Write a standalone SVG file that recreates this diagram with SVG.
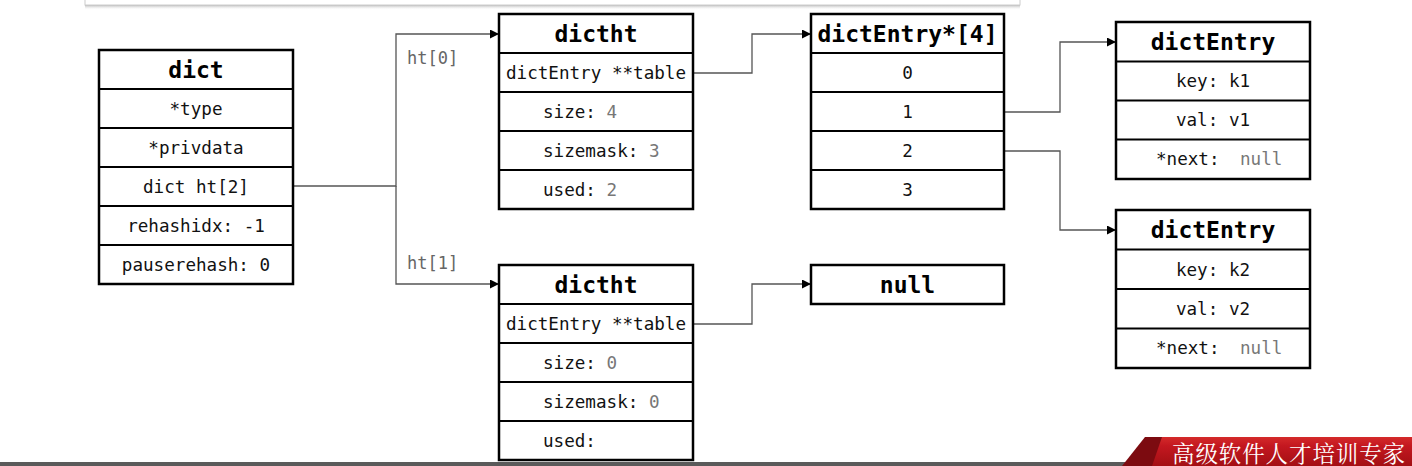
<svg xmlns="http://www.w3.org/2000/svg" width="1412" height="466" viewBox="0 0 1412 466">
<style>
.box{fill:#fff;stroke:#000;stroke-width:2.5}
.dv{stroke:#000;stroke-width:2}
.t{font-family:"DejaVu Sans Mono",monospace;font-size:17.6px;fill:#111}
.h{font-family:"DejaVu Sans Mono",monospace;font-size:23px;font-weight:bold;fill:#000}
.g{fill:#777}
.c{text-anchor:middle}
.lbl{font-family:"DejaVu Sans Mono",monospace;font-size:17px;fill:#666}
.conn{fill:none;stroke:#555;stroke-width:1.3}
</style>
<defs>
<marker id="arr" markerUnits="userSpaceOnUse" markerWidth="9" markerHeight="9" refX="9" refY="4.5" orient="auto">
<path d="M0,0 L9,4.5 L0,9 z" fill="#000"/>
</marker>
<linearGradient id="shadow" x1="0" y1="0" x2="0" y2="1">
<stop offset="0" stop-color="#999"/>
<stop offset="1" stop-color="#fff" stop-opacity="0"/>
</linearGradient>
<linearGradient id="red" x1="0" y1="0" x2="0" y2="1">
<stop offset="0" stop-color="#d42a2a"/>
<stop offset="0.3" stop-color="#c41820"/>
<stop offset="1" stop-color="#a30f14"/>
</linearGradient>
</defs>

<g id="topbar">
<rect x="85" y="4" width="935" height="6" fill="url(#shadow)"/>
<rect x="85" y="-5" width="935" height="10" fill="#fff" stroke="#ccc" stroke-width="1"/>
</g>

<g id="connectors">
<path class="conn" d="M293,186 H396 V34 H499" marker-end="url(#arr)"/>
<path class="conn" d="M396,186 V284 H499" marker-end="url(#arr)"/>
<path class="conn" d="M693,73 H752 V34 H811" marker-end="url(#arr)"/>
<path class="conn" d="M1004,112 H1060 V42 H1116" marker-end="url(#arr)"/>
<path class="conn" d="M1004,151 H1060 V230 H1116" marker-end="url(#arr)"/>
<path class="conn" d="M693,324 H752 V284 H811" marker-end="url(#arr)"/>
<text class="lbl" x="407" y="64">ht[0]</text>
<text class="lbl" x="407" y="269">ht[1]</text>
</g>

<g id="dict">
<rect class="box" x="99" y="50" width="194" height="234"/>
<line class="dv" x1="99" y1="89" x2="293" y2="89"/>
<line class="dv" x1="99" y1="128" x2="293" y2="128"/>
<line class="dv" x1="99" y1="167" x2="293" y2="167"/>
<line class="dv" x1="99" y1="206" x2="293" y2="206"/>
<line class="dv" x1="99" y1="245" x2="293" y2="245"/>
<text class="h c" x="196" y="77.5">dict</text>
<text class="t c" x="196" y="114.5">*type</text>
<text class="t c" x="196" y="153.5">*privdata</text>
<text class="t c" x="196" y="192.5">dict ht[2]</text>
<text class="t c" x="196" y="231.5">rehashidx: -1</text>
<text class="t c" x="196" y="270.5">pauserehash: 0</text>
</g>

<g id="dictht0">
<rect class="box" x="499" y="14" width="194" height="195"/>
<line class="dv" x1="499" y1="53" x2="693" y2="53"/>
<line class="dv" x1="499" y1="92" x2="693" y2="92"/>
<line class="dv" x1="499" y1="131" x2="693" y2="131"/>
<line class="dv" x1="499" y1="170" x2="693" y2="170"/>
<text class="h c" x="596" y="41.5">dictht</text>
<text class="t c" x="596" y="78.5">dictEntry **table</text>
<text class="t" x="543" y="117.5">size: <tspan class="g">4</tspan></text>
<text class="t" x="543" y="156.5">sizemask: <tspan class="g">3</tspan></text>
<text class="t" x="543" y="195.5">used: <tspan class="g">2</tspan></text>
</g>

<g id="array">
<rect class="box" x="811" y="14" width="193" height="195"/>
<line class="dv" x1="811" y1="53" x2="1004" y2="53"/>
<line class="dv" x1="811" y1="92" x2="1004" y2="92"/>
<line class="dv" x1="811" y1="131" x2="1004" y2="131"/>
<line class="dv" x1="811" y1="170" x2="1004" y2="170"/>
<text class="h c" x="907.5" y="41.5">dictEntry*[4]</text>
<text class="t c" x="907.5" y="78.5">0</text>
<text class="t c" x="907.5" y="117.5">1</text>
<text class="t c" x="907.5" y="156.5">2</text>
<text class="t c" x="907.5" y="195.5">3</text>
</g>

<g id="entry1">
<rect class="box" x="1116" y="22" width="194" height="157"/>
<line class="dv" x1="1116" y1="61.5" x2="1310" y2="61.5"/>
<line class="dv" x1="1116" y1="100.5" x2="1310" y2="100.5"/>
<line class="dv" x1="1116" y1="139.5" x2="1310" y2="139.5"/>
<text class="h c" x="1213" y="50">dictEntry</text>
<text class="t c" x="1213" y="87">key: k1</text>
<text class="t c" x="1213" y="126">val: v1</text>
<text class="t" x="1156" y="165">*next:<tspan class="g" x="1240">null</tspan></text>
</g>

<g id="entry2">
<rect class="box" x="1116" y="210" width="194" height="158"/>
<line class="dv" x1="1116" y1="249.5" x2="1310" y2="249.5"/>
<line class="dv" x1="1116" y1="289" x2="1310" y2="289"/>
<line class="dv" x1="1116" y1="328.5" x2="1310" y2="328.5"/>
<text class="h c" x="1213" y="238">dictEntry</text>
<text class="t c" x="1213" y="275.5">key: k2</text>
<text class="t c" x="1213" y="315">val: v2</text>
<text class="t" x="1156" y="354">*next:<tspan class="g" x="1240">null</tspan></text>
</g>

<g id="dictht1">
<rect class="box" x="499" y="265" width="194" height="195"/>
<line class="dv" x1="499" y1="304" x2="693" y2="304"/>
<line class="dv" x1="499" y1="343" x2="693" y2="343"/>
<line class="dv" x1="499" y1="382" x2="693" y2="382"/>
<line class="dv" x1="499" y1="421" x2="693" y2="421"/>
<text class="h c" x="596" y="292.5">dictht</text>
<text class="t c" x="596" y="329.5">dictEntry **table</text>
<text class="t" x="543" y="368.5">size: <tspan class="g">0</tspan></text>
<text class="t" x="543" y="407.5">sizemask: <tspan class="g">0</tspan></text>
<text class="t" x="543" y="446.5">used:</text>
</g>

<g id="null">
<rect class="box" x="811" y="265" width="193" height="39"/>
<text class="h c" x="907.5" y="292.5">null</text>
</g>

<g id="footer">
<rect x="0" y="462" width="1412" height="4" fill="#5a5a5a"/>
<polygon points="1150,466 1160,437 1412,437 1412,466" fill="url(#red)"/>
<polygon points="1122,466 1145,437 1162,437 1152,466" fill="#7c0b10"/>
<text x="1172" y="462" font-family="'Noto Serif CJK SC','Noto Sans CJK SC',serif" font-size="22.5" letter-spacing="0.9" fill="#fff">高级软件人才培训专家</text>
</g>
</svg>
